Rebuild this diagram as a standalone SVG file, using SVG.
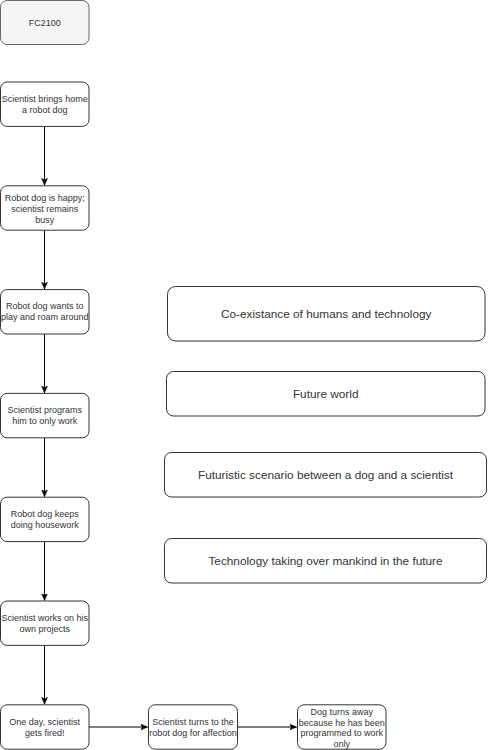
<svg xmlns="http://www.w3.org/2000/svg" width="488" height="750" viewBox="0 0 488 750">
<defs>
<style>
.n rect{fill:#ffffff;stroke:#333333;stroke-width:1}
.n text{font-family:"Liberation Sans",Arial,sans-serif;font-size:9px;fill:#333333;text-anchor:middle}
.big text{font-size:11.8px}
#fc rect{fill:#f5f5f5;stroke:#666666}
.c path{fill:none;stroke:#000000;stroke-width:1}
</style>
<marker id="ah" markerUnits="userSpaceOnUse" markerWidth="8" markerHeight="8" viewBox="0 0 8 8" refX="7" refY="4" orient="auto">
<path d="M0,1 L7,4 L0,7 L1.8,4 Z" fill="#000000" stroke="#000000" stroke-width="0.5"/>
</marker>
</defs>
<rect width="488" height="750" fill="#ffffff"/>
<g class="c" id="connectors">
<path d="M44.5,126.4 L44.5,185.3" marker-end="url(#ah)"/>
<path d="M44.5,230.2 L44.5,289.1" marker-end="url(#ah)"/>
<path d="M44.5,334 L44.5,392.9" marker-end="url(#ah)"/>
<path d="M44.5,437.8 L44.5,496.7" marker-end="url(#ah)"/>
<path d="M44.5,541.6 L44.5,600.5" marker-end="url(#ah)"/>
<path d="M44.5,645.4 L44.5,704.3" marker-end="url(#ah)"/>
<path d="M89,727 L147.5,727" marker-end="url(#ah)"/>
<path d="M238,727 L296.5,727" marker-end="url(#ah)"/>
</g>
<g class="n" id="fc"><rect x="0.5" y="0.5" width="88.5" height="44" rx="6.6"/><text x="44.7" y="25.7">FC2100</text></g>
<g class="n" id="n1"><rect x="0.5" y="82" width="88.5" height="44.4" rx="6.6"/><text x="44.7" y="101.8">Scientist brings home</text><text x="44.7" y="112.8">a robot dog</text></g>
<g class="n" id="n2"><rect x="0.5" y="185.8" width="88.5" height="44.4" rx="6.6"/><text x="44.7" y="201.2">Robot dog is happy;</text><text x="44.7" y="212.2">scientist remains</text><text x="44.7" y="223.2">busy</text></g>
<g class="n" id="n3"><rect x="0.5" y="289.6" width="88.5" height="44.4" rx="6.6"/><text x="44.7" y="309.4">Robot dog wants to</text><text x="44.7" y="320.4">play and roam around</text></g>
<g class="n" id="n4"><rect x="0.5" y="393.4" width="88.5" height="44.4" rx="6.6"/><text x="44.7" y="413.2">Scientist programs</text><text x="44.7" y="424.2">him to only work</text></g>
<g class="n" id="n5"><rect x="0.5" y="497.2" width="88.5" height="44.4" rx="6.6"/><text x="44.7" y="517">Robot dog keeps</text><text x="44.7" y="528">doing housework</text></g>
<g class="n" id="n6"><rect x="0.5" y="601" width="88.5" height="44.4" rx="6.6"/><text x="44.7" y="620.8">Scientist works on his</text><text x="44.7" y="631.8">own projects</text></g>
<g class="n" id="n7"><rect x="0.5" y="704.8" width="88.5" height="44.4" rx="6.6"/><text x="44.7" y="724.6">One day, scientist</text><text x="44.7" y="735.6">gets fired!</text></g>
<g class="n" id="n8"><rect x="148.5" y="704.8" width="89" height="44.4" rx="6.6"/><text x="193" y="724.6">Scientist turns to the</text><text x="193" y="735.6">robot dog for affection</text></g>
<g class="n" id="n9"><rect x="297.5" y="704.8" width="88.5" height="44.4" rx="6.6"/><text x="341.7" y="715">Dog turns away</text><text x="341.7" y="725.5">because he has been</text><text x="341.7" y="736">programmed to work</text><text x="341.7" y="746.5">only</text></g>
<g class="n big" id="t1"><rect x="167.5" y="286.5" width="317.5" height="54.5" rx="8"/><text x="326.2" y="318">Co-existance of humans and technology</text></g>
<g class="n big" id="t2"><rect x="166.5" y="371.5" width="318.5" height="44.5" rx="7"/><text x="325.7" y="398">Future world</text></g>
<g class="n big" id="t3"><rect x="164.5" y="452.5" width="322" height="44.5" rx="7"/><text x="325.5" y="479">Futuristic scenario between a dog and a scientist</text></g>
<g class="n big" id="t4"><rect x="164.5" y="538.5" width="322" height="44.5" rx="7"/><text x="325.5" y="565">Technology taking over mankind in the future</text></g>
</svg>
